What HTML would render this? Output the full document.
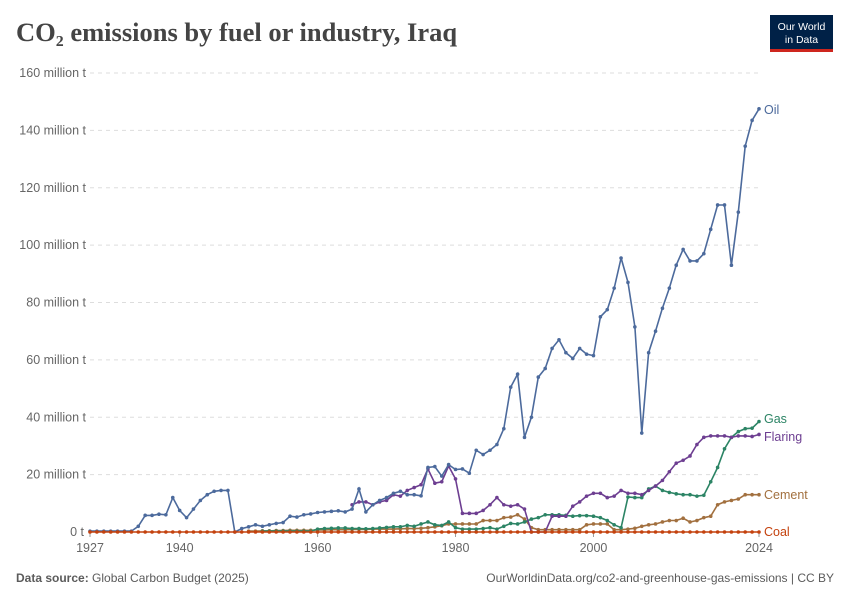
<!DOCTYPE html>
<html><head><meta charset="utf-8"><style>
body{margin:0;background:#fff;width:850px;height:600px;overflow:hidden;font-family:"Liberation Sans",sans-serif;}
</style></head><body>
<svg id="chart" width="850" height="600" xmlns="http://www.w3.org/2000/svg">
<text x="16" y="41" font-family="Liberation Serif,serif" font-size="26.5" font-weight="bold" fill="#444">CO₂ emissions by fuel or industry, Iraq</text>
<g>
<rect x="770" y="15" width="63" height="34" fill="#002147"/>
<rect x="770" y="49" width="63" height="3" fill="#ce261e"/>
<text x="801.5" y="30" text-anchor="middle" font-size="10.5" fill="#fff">Our World</text>
<text x="801.5" y="43" text-anchor="middle" font-size="10.5" fill="#fff">in Data</text>
</g>
<g id="grid"></g><g id="series"></g>
<text x="16" y="582" font-size="12" fill="#5b5b5b"><tspan font-weight="bold">Data source:</tspan> Global Carbon Budget (2025)</text>
<text x="834" y="582" text-anchor="end" font-size="12" fill="#5b5b5b">OurWorldinData.org/co2-and-greenhouse-gas-emissions | CC BY</text>
</svg>
<script>
const yTicks=[0,20,40,60,80,100,120,140,160];
const xTicks=[1927,1940,1960,1980,2000,2024];
const oilStart=1927;
const oil=[0.3,0.3,0.3,0.3,0.3,0.3,0.3,2,5.8,5.8,6.2,6,12,7.5,5,8,11,13,14.2,14.5,14.5,0,1.2,1.8,2.5,2,2.5,3,3.3,5.5,5.2,6,6.3,6.8,7,7.2,7.4,7,8,15,7,9.5,11,12,13.5,14.2,13,13,12.6,22.5,22.8,19.5,23.5,21.8,22,20.5,28.5,27,28.5,30.5,36,50.5,55,33,40,54,57,64,67,62.5,60.5,64,62,61.5,75,77.5,85,95.5,87,71.5,34.5,62.5,70,78,85,93,98.5,94.5,94.5,97,105.5,114,114,93,111.5,134.5,143.5,147.5];
const flaringStart=1965;
const flaring=[9.5,10.5,10.5,9.5,10.5,11,13,12.5,14.5,15.5,16.5,22,17,17.5,23,18.5,6.5,6.5,6.5,7.5,9.5,12,9.5,9,9.5,8,0,0,0,5.5,5.5,5.5,9,10.5,12.5,13.5,13.5,12,12.5,14.5,13.5,13.5,13,14.5,16,18,21,24,25,26.5,30.5,33,33.5,33.5,33.5,33,33.5,33.5,33.3,34];
const gasStart=1952;
const gas=[0.3,0.3,0.3,0.3,0.3,0.3,0.3,0.3,1,1.2,1.3,1.4,1.4,1.2,1.2,1.1,1.2,1.4,1.6,1.8,1.8,2.3,2,2.8,3.5,2.5,2.3,3.5,1.5,1,1,1,1.2,1.5,1,2,3,2.8,3.5,4.5,5,6,6,6,5.8,5.5,5.7,5.7,5.5,5,4,2.5,1.5,12.2,12,12,15,16,14.5,13.8,13.3,13,13,12.5,12.8,17.5,22.5,29,33,35,36,36.2,38.5];
const cementStart=1950;
const cement=[0.3,0.3,0.4,0.4,0.5,0.5,0.6,0.6,0.6,0.6,0.7,0.7,0.8,0.8,0.8,0.9,0.9,0.9,1,1,1,1,1.1,1.2,1.2,1.3,1.5,1.8,2.2,2.8,2.8,2.8,2.8,2.8,4,4,4,5,5.2,6,4.5,1.5,0.8,0.8,0.8,0.8,0.8,0.8,0.8,2.5,2.8,2.8,2.8,0.8,0.8,1,1.3,2,2.5,2.8,3.5,4,4,4.8,3.5,4,5,5.5,9.5,10.5,11,11.5,13,13,13];
const coalStart=1927;
const coal=Array(98).fill(0);
const X=y=>90+(y-1927)*(759-90)/97;
const Y=v=>532-v*(532-73)/160;
const NS="http://www.w3.org/2000/svg";
function mk(tag,attrs,parent){const e=document.createElementNS(NS,tag);for(const k in attrs)e.setAttribute(k,attrs[k]);parent.appendChild(e);return e;}
const grid=document.getElementById('grid');
yTicks.forEach(t=>{
  if(t>0){const l=mk('line',{x1:90,x2:760,y1:Y(t),y2:Y(t),stroke:'#ddd','stroke-dasharray':'4,4'},grid);
  
  }
  const tx=mk('text',{x:t===0?84:86,y:Y(t)+4,'text-anchor':'end','font-size':12.5,fill:'#666'},grid);
  tx.textContent=t===0?'0 t':t+' million t';
  
  
});
xTicks.forEach(t=>{
  const l=mk('line',{x1:X(t),x2:X(t),y1:532,y2:537,stroke:'#999'},grid);
  
  
  const tx=mk('text',{x:X(t),y:552,'text-anchor':'middle','font-size':12.5,fill:'#666'},grid);
  tx.textContent=t;
  
  
});
const sg=document.getElementById('series');
function draw(name,start,vals,color,lbl,ly){
  const g=mk('g',{},sg);
  
  
  const pts=vals.map((v,i)=>X(start+i).toFixed(1)+','+Y(v).toFixed(1)).join(' ');
  mk('polyline',{points:pts,fill:'none',stroke:color,'stroke-width':1.6},g);
  vals.forEach((v,i)=>{const c=mk('circle',{cx:X(start+i),cy:Y(v),r:1.8,fill:color},g);
    
    });
  const t=mk('text',{x:764,y:ly+4,'font-size':12.5,fill:color},g);
  t.textContent=lbl;
  
  
}
draw('cement',cementStart,cement,'#a2703f','Cement',495);
draw('gas',gasStart,gas,'#2c8465','Gas',419);
draw('flaring',flaringStart,flaring,'#6d3e91','Flaring',437);
draw('oil',oilStart,oil,'#4c6a9c','Oil',110);
draw('coal',coalStart,coal,'#c4420e','Coal',532);
</script>
</body></html>
